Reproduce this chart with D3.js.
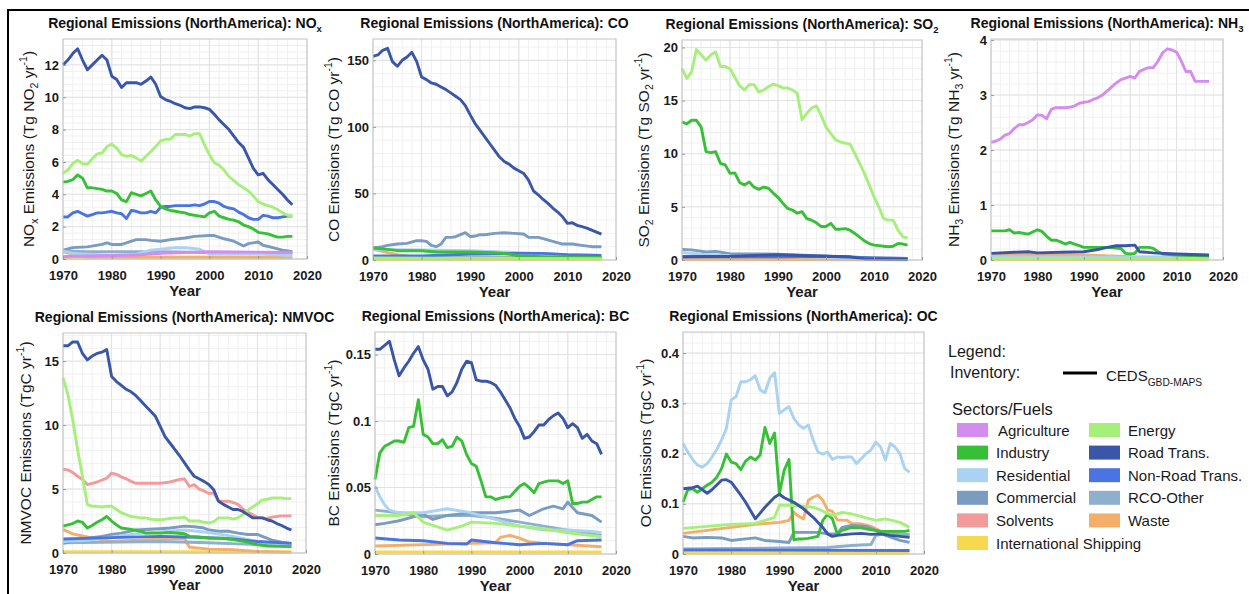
<!DOCTYPE html>
<html>
<head>
<meta charset="utf-8">
<script src="https://cdn.jsdelivr.net/npm/d3@7"></script>
<style>
  body { margin: 0; background: #fff; }
  svg { font-family: "Liberation Sans", Arial, Helvetica, sans-serif; }
</style>
</head>
<body>
<svg id="fig" width="1249" height="594"></svg>
<script>
// ---- data ----
const years = [1970,1971,1972,1973,1974,1975,1976,1977,1978,1979,
  1980,1981,1982,1983,1984,1985,1986,1987,1988,1989,
  1990,1991,1992,1993,1994,1995,1996,1997,1998,1999,
  2000,2001,2002,2003,2004,2005,2006,2007,2008,2009,
  2010,2011,2012,2013,2014,2015,2016,2017];

const sectors = ["Agriculture", "Energy", "Industry", "Road Trans.", "Residential", "Non-Road Trans.",
  "Commercial", "RCO-Other", "Solvents", "Waste", "International Shipping"];
const sectorColors = ["#d48cf0", "#a6f07a", "#36c036", "#3a56a8", "#aad2f2", "#4a74e0",
  "#7a9cc0", "#8fb0cc", "#f39a9a", "#f5ad6a", "#f8d84e"];
// drawing order, back to front
const drawOrder = ["International Shipping", "Waste", "Solvents", "RCO-Other", "Commercial", "Residential",
  "Non-Road Trans.", "Agriculture", "Industry", "Energy", "Road Trans."];

const xTicks = [1970, 1980, 1990, 2000, 2010, 2020];

// NOx (Tg NO2 / yr)
const noxRoad = [12.0,12.3,12.7,13.0,12.3,11.7,12.0,12.3,12.6,12.3,
  11.3,11.1,10.6,10.9,10.9,10.9,10.8,11.0,11.25,10.8,
  10.05,9.85,9.75,9.6,9.5,9.35,9.3,9.4,9.4,9.35,
  9.25,8.95,8.6,8.3,8.0,7.6,7.2,6.9,6.25,5.6,
  5.2,5.3,4.9,4.6,4.3,4.0,3.65,3.35];
const noxEnergy = [5.3,5.5,5.9,6.1,5.9,5.85,6.2,6.5,6.55,6.95,
  7.1,6.85,6.45,6.35,6.4,6.25,6.05,6.35,6.65,6.95,
  7.3,7.4,7.4,7.7,7.7,7.7,7.6,7.75,7.75,7.05,
  6.45,5.95,5.8,5.5,5.1,4.85,4.6,4.4,4.2,3.9,
  3.55,3.4,3.3,3.2,3.05,2.85,2.7,2.65];
const noxIndustry = [4.75,4.8,4.9,5.2,5.0,4.4,4.4,4.35,4.3,4.2,
  4.2,4.05,3.65,3.55,4.1,4.0,3.9,4.05,4.2,3.65,
  3.25,3.1,3.0,2.95,2.9,2.85,2.75,2.7,2.65,2.6,
  2.85,2.95,2.65,2.55,2.45,2.4,2.3,2.1,2.0,1.85,
  1.65,1.6,1.55,1.45,1.35,1.35,1.4,1.4];
const noxNonRoad = [2.6,2.6,2.85,2.95,2.8,2.65,2.75,2.85,2.85,2.9,
  2.95,2.85,2.8,2.5,3.0,2.95,2.85,2.85,2.95,2.85,
  3.2,3.25,3.25,3.3,3.3,3.3,3.3,3.35,3.3,3.4,
  3.55,3.55,3.45,3.25,3.15,3.1,2.9,2.75,2.55,2.45,
  2.45,2.7,2.65,2.55,2.55,2.6,2.65,2.65];
const noxCommercial = [[1970,0.55],[1972,0.7],[1975,0.75],[1978,0.9],[1979,1.0],[1980,0.9],[1982,0.9],
  [1983,1.0],[1985,1.2],[1987,1.2],[1988,1.15],[1990,1.1],[1992,1.2],[1995,1.3],[1997,1.4],[2000,1.45],
  [2001,1.45],[2003,1.25],[2005,1.1],[2007,0.8],[2008,0.95],[2010,1.05],[2011,0.85],[2013,0.7],[2015,0.55],[2017,0.45]];
const noxResidential = [[1970,0.5],[1972,0.35],[1975,0.3],[1980,0.22],[1985,0.3],[1988,0.55],[1990,0.6],
  [1993,0.7],[1995,0.7],[1998,0.6],[2000,0.3],[2010,0.3],[2017,0.22]];
const noxRco = [[1970,0.5],[1975,0.45],[1990,0.45],[2000,0.4],[2017,0.35]];
const noxAg = [[1970,0.15],[1985,0.25],[1990,0.35],[2000,0.45],[2017,0.4]];
const noxWaste = [[1970,0.45],[1972,0.3],[1975,0.12],[2017,0.1]];
const noxShipping = [[1970,0.05],[2017,0.07]];

// CO (Tg CO / yr)
const coRoad = [153,154,157.5,159,149,145.5,150,152.5,156,149,
  137.5,135.5,133,132,130,128,125.5,123,120.5,116,
  109,102.5,97.5,92.5,87.5,82.5,77.5,74,72,69,
  67,65,60,52,49,45.5,42.5,39,36,32.5,
  27.5,28,26,25,24,22.5,21,19.5];
const coCommercial = [[1970,9],[1972,10],[1973,11],[1975,12],[1977,12.5],[1979,14.5],[1980,14.5],[1981,14],
  [1982,11],[1983,10],[1984,12],[1985,17],[1986,17],[1987,17.5],[1988,19],[1989,20.5],[1990,17.5],[1991,18],
  [1992,19],[1993,19],[1995,20],[1997,20.5],[1999,20],[2001,19.5],[2002,17],[2004,17],[2005,16],[2007,14],
  [2009,12],[2011,12],[2013,11],[2015,10],[2017,10]];
const coIndustry = [[1970,9],[1973,8],[1975,7],[1980,7],[1983,6],[1990,6],[1995,5.5],[1998,4.5],[2000,3],
  [2005,2.5],[2017,2]];
const coResidential = [[1970,8],[1980,7.5],[1990,7],[2000,5.5],[2010,4],[2017,3.5]];
const coNonRoad = [[1970,3],[1980,3],[1990,4.5],[2000,5],[2005,5],[2010,4],[2017,3.5]];
const coWaste = [[1970,8],[1975,4],[1978,2.5],[2017,2]];
const coEnergy = [[1970,1.5],[2017,1]];
const coRco = [[1970,2],[2017,1.5]];
const coShipping = [[1970,0.4],[2017,0.5]];

// SO2 (Tg SO2 / yr)
const so2Energy = [18.0,17.1,17.7,19.8,19.3,18.8,19.3,19.6,18.2,18.2,
  18.0,17.2,16.4,16.0,16.5,16.5,15.8,16.0,16.3,16.55,
  16.4,16.2,16.2,16.0,15.7,13.2,13.8,14.3,14.5,13.6,
  12.5,11.9,11.3,11.1,11.0,10.9,10.0,9.1,8.15,7.05,
  5.95,5.0,3.9,3.75,3.75,2.8,2.2,2.05];
const so2Industry = [13.0,12.8,13.15,13.15,12.5,10.2,10.1,10.2,9.1,8.95,
  8.15,8.2,7.3,7.05,7.35,6.85,6.65,6.85,6.75,6.3,
  5.9,5.35,4.85,4.7,4.4,4.55,3.9,3.75,3.5,3.15,
  3.15,3.45,2.9,2.9,2.95,2.8,2.5,2.15,1.8,1.55,
  1.4,1.35,1.3,1.25,1.3,1.55,1.5,1.4];
const so2Commercial = [[1970,1.0],[1972,0.95],[1975,0.75],[1977,0.8],[1980,0.6],[1990,0.55],[2000,0.35],
  [2010,0.2],[2017,0.15]];
const so2Residential = [[1970,0.7],[1975,0.5],[1980,0.4],[1990,0.35],[2000,0.25],[2010,0.15],[2017,0.1]];
const so2Road = [[1970,0.3],[1980,0.35],[1990,0.5],[2000,0.35],[2005,0.3],[2008,0.1],[2017,0.05]];
const so2NonRoad = [[1970,0.3],[1990,0.3],[2000,0.35],[2010,0.2],[2017,0.15]];
const so2Waste = [[1970,0.05],[2017,0.03]];
const so2Shipping = [[1970,0.05],[2017,0.05]];

// NH3 (Tg NH3 / yr)
const nh3Ag = [2.14,2.16,2.2,2.27,2.3,2.39,2.46,2.46,2.5,2.55,
  2.64,2.63,2.57,2.74,2.77,2.77,2.77,2.78,2.8,2.85,
  2.87,2.88,2.92,2.95,3.0,3.07,3.15,3.22,3.28,3.31,
  3.34,3.31,3.43,3.47,3.5,3.5,3.62,3.77,3.84,3.82,
  3.78,3.62,3.43,3.43,3.25,3.25,3.25,3.25];
const nh3Industry = [[1970,0.53],[1973,0.53],[1974,0.55],[1975,0.49],[1976,0.5],[1978,0.47],[1980,0.55],
  [1981,0.52],[1982,0.43],[1983,0.36],[1984,0.36],[1985,0.33],[1986,0.29],[1987,0.32],[1988,0.29],[1989,0.26],
  [1990,0.23],[1995,0.23],[1998,0.21],[1999,0.12],[2000,0.11],[2001,0.12],[2002,0.23],[2004,0.23],[2005,0.21],
  [2006,0.15],[2007,0.11],[2010,0.09],[2017,0.07]];
const nh3Road = [[1970,0.12],[1975,0.14],[1978,0.15],[1980,0.13],[1985,0.14],[1990,0.15],[1993,0.19],
  [1995,0.23],[1997,0.26],[1999,0.26],[2001,0.27],[2002,0.15],[2005,0.13],[2010,0.11],[2017,0.09]];
const nh3Waste = [[1970,0.1],[1990,0.09],[2000,0.06],[2017,0.05]];
const nh3Energy = [[1970,0.03],[2017,0.02]];
const nh3Residential = [[1970,0.06],[2017,0.04]];
const nh3Shipping = [[1970,0.005],[2017,0.005]];

// NMVOC (TgC / yr)
const vocRoad = [16.2,16.2,16.5,16.5,15.6,15.1,15.4,15.6,15.7,15.9,
  13.8,13.4,13.1,12.8,12.6,12.3,11.9,11.5,11.1,10.7,
  9.9,9.1,8.6,8.1,7.6,7.05,6.5,6.0,5.8,5.6,
  5.35,4.95,4.05,3.8,3.6,3.4,3.4,3.25,3.0,2.75,
  2.75,2.75,2.6,2.5,2.3,2.15,1.95,1.8];
const vocEnergy = [13.7,12.4,10.4,8.1,6.0,3.8,3.65,3.65,3.6,3.65,
  3.65,3.4,3.15,3.0,2.85,2.8,2.75,2.75,2.65,2.6,
  2.6,2.65,2.7,2.75,2.75,2.8,2.5,2.5,2.5,2.4,
  2.35,2.45,2.75,2.75,2.75,2.65,2.75,3.0,3.35,3.6,
  3.85,4.15,4.2,4.3,4.3,4.3,4.25,4.25];
const vocSolvents = [6.55,6.5,6.3,6.0,5.75,5.35,5.45,5.55,5.7,5.85,
  6.25,6.15,5.95,5.8,5.6,5.45,5.45,5.45,5.45,5.45,
  5.45,5.5,5.55,5.65,5.75,5.8,5.2,5.35,5.0,4.85,
  4.65,4.7,4.05,4.05,4.05,3.95,3.8,3.45,3.2,3.0,
  2.8,2.75,2.7,2.8,2.85,2.9,2.9,2.9];
const vocIndustry = [[1970,2.1],[1972,2.3],[1973,2.5],[1974,2.4],[1975,1.95],[1976,2.15],[1977,2.4],[1978,2.6],
  [1979,2.85],[1980,2.5],[1981,2.2],[1982,1.95],[1984,1.85],[1986,1.7],[1987,1.55],[1990,1.55],[1992,1.6],
  [1995,1.5],[1996,1.3],[1998,1.25],[2000,1.15],[2003,1.15],[2005,1.05],[2008,0.85],[2010,0.65],[2012,0.55],[2017,0.5]];
const vocCommercial = [[1970,0.75],[1972,0.9],[1975,1.15],[1978,1.3],[1980,1.45],[1982,1.55],[1985,1.8],
  [1990,1.9],[1992,1.95],[1995,2.1],[1997,2.05],[1999,1.95],[2000,1.8],[2002,1.7],[2004,1.7],[2006,1.55],
  [2008,1.45],[2010,1.45],[2011,1.3],[2013,1.0],[2015,0.85],[2017,0.75]];
const vocNonRoad = [[1970,1.1],[1980,1.2],[1990,1.3],[1995,1.25],[2000,1.2],[2005,1.1],[2010,0.9],[2017,0.75]];
const vocResidential = [[1970,0.9],[1975,1.0],[1985,1.5],[1995,1.8],[2000,1.6],[2005,1.3],[2010,0.9],[2017,0.6]];
const vocRco = [[1970,0.8],[1990,0.9],[2000,0.8],[2017,0.55]];
const vocWaste = [[1970,1.85],[1972,1.5],[1975,1.25],[1978,1.05],[1980,0.9],[1985,1.0],[1990,1.1],
  [1995,1.15],[1996,0.45],[2000,0.3],[2005,0.25],[2010,0.12],[2017,0.05]];
const vocShipping = [[1970,0.1],[2017,0.1]];

// BC (TgC / yr)
const bcRoad = [0.154,0.154,0.157,0.16,0.146,0.134,0.14,0.145,0.151,0.156,
  0.146,0.139,0.124,0.126,0.126,0.119,0.122,0.129,0.139,0.145,
  0.144,0.131,0.13,0.13,0.129,0.127,0.122,0.116,0.11,0.102,
  0.096,0.087,0.088,0.092,0.097,0.097,0.101,0.104,0.106,0.102,
  0.095,0.098,0.095,0.087,0.09,0.085,0.083,0.075];
const bcIndustry = [0.056,0.076,0.081,0.083,0.085,0.085,0.084,0.095,0.096,0.116,
  0.09,0.088,0.083,0.083,0.086,0.08,0.081,0.088,0.085,0.075,
  0.068,0.066,0.055,0.043,0.043,0.041,0.042,0.043,0.043,0.047,
  0.051,0.053,0.05,0.046,0.053,0.054,0.055,0.055,0.055,0.053,
  0.055,0.038,0.038,0.039,0.039,0.041,0.043,0.043];
const bcResidential = [[1970,0.051],[1971,0.043],[1972,0.037],[1973,0.033],[1975,0.031],[1980,0.031],
  [1985,0.034],[1990,0.031],[1995,0.026],[2000,0.021],[2005,0.018],[2010,0.018],[2015,0.017],[2017,0.016]];
const bcCommercial = [[1970,0.022],[1972,0.023],[1975,0.025],[1980,0.03],[1982,0.026],[1985,0.029],
  [1990,0.031],[1995,0.031],[2000,0.033],[2002,0.029],[2005,0.034],[2007,0.036],[2009,0.034],[2010,0.039],
  [2012,0.031],[2015,0.029],[2017,0.024]];
const bcRco = [[1970,0.033],[1975,0.031],[1980,0.028],[1985,0.029],[1990,0.029],[1995,0.027],[2000,0.024],
  [2005,0.021],[2010,0.018],[2017,0.014]];
const bcEnergy = [[1970,0.029],[1975,0.029],[1978,0.031],[1980,0.024],[1985,0.018],[1988,0.021],[1990,0.024],
  [1995,0.023],[2000,0.021],[2005,0.019],[2010,0.016],[2017,0.013]];
const bcNonRoad = [[1970,0.012],[1975,0.0105],[1980,0.01],[1985,0.008],[1989,0.0075],[1990,0.0105],
  [1995,0.0085],[2000,0.007],[2005,0.008],[2010,0.007],[2012,0.01],[2017,0.0105]];
const bcWaste = [[1970,0.006],[1990,0.008],[1995,0.0085],[1996,0.0125],[1998,0.014],[2000,0.012],
  [2002,0.009],[2005,0.008],[2010,0.007],[2017,0.0055]];
const bcShipping = [[1970,0.0015],[2017,0.0015]];

// OC (TgC / yr)
const ocResidential = [0.22,0.203,0.188,0.177,0.173,0.18,0.193,0.208,0.227,0.25,
  0.307,0.313,0.343,0.343,0.347,0.355,0.327,0.321,0.35,0.361,
  0.28,0.287,0.293,0.27,0.257,0.25,0.257,0.227,0.203,0.199,
  0.203,0.188,0.193,0.192,0.193,0.193,0.18,0.19,0.2,0.207,
  0.223,0.213,0.187,0.22,0.213,0.2,0.17,0.163];
const ocIndustry = [0.103,0.128,0.13,0.123,0.13,0.137,0.143,0.153,0.17,0.199,
  0.183,0.18,0.168,0.185,0.193,0.187,0.197,0.252,0.22,0.241,
  0.12,0.167,0.188,0.028,0.03,0.03,0.031,0.033,0.035,0.067,
  0.079,0.07,0.04,0.047,0.05,0.053,0.052,0.052,0.05,0.048,
  0.047,0.045,0.045,0.045,0.045,0.045,0.045,0.047];
const ocRoad = [[1970,0.13],[1972,0.132],[1973,0.135],[1975,0.121],[1976,0.128],[1978,0.147],[1979,0.148],
  [1980,0.143],[1982,0.117],[1983,0.103],[1985,0.07],[1987,0.093],[1989,0.113],[1990,0.119],[1991,0.112],
  [1993,0.103],[1995,0.09],[1997,0.073],[1999,0.053],[2000,0.04],[2001,0.035],[2002,0.037],[2005,0.04],
  [2007,0.041],[2009,0.039],[2011,0.04],[2013,0.037],[2015,0.035],[2017,0.033]];
const ocEnergy = [[1970,0.051],[1975,0.055],[1980,0.059],[1985,0.061],[1987,0.067],[1989,0.073],[1990,0.097],
  [1992,0.097],[1995,0.095],[1997,0.093],[1998,0.09],[2000,0.081],[2001,0.077],[2002,0.08],[2003,0.083],
  [2005,0.08],[2008,0.072],[2010,0.067],[2012,0.07],[2015,0.063],[2017,0.053]];
const ocWaste = [[1970,0.041],[1975,0.047],[1980,0.053],[1985,0.059],[1990,0.063],[1992,0.067],[1993,0.083],
  [1994,0.075],[1995,0.07],[1996,0.107],[1997,0.113],[1998,0.117],[1999,0.107],[2000,0.088],[2001,0.085],
  [2002,0.068],[2004,0.067],[2005,0.061],[2007,0.06],[2009,0.055],[2011,0.045],[2013,0.043],[2015,0.039],[2017,0.037]];
const ocCommercial = [[1970,0.035],[1972,0.032],[1975,0.033],[1978,0.032],[1980,0.027],[1983,0.03],
  [1985,0.032],[1987,0.027],[1990,0.025],[1992,0.023],[1993,0.043],[1998,0.043],[2000,0.04],[2002,0.04],
  [2003,0.053],[2005,0.057],[2008,0.055],[2010,0.047],[2012,0.037],[2015,0.027],[2017,0.023]];
const ocRco = [[1970,0.01],[1990,0.012],[2000,0.013],[2005,0.017],[2009,0.019],[2010,0.037],[2012,0.04],
  [2015,0.04],[2017,0.039]];
const ocNonRoad = [[1970,0.008],[2017,0.007]];
const ocShipping = [[1970,0.002],[2017,0.002]];

// ---- panel layout ----
const panels = [
  { title: [["Regional Emissions (NorthAmerica): NO"], ["x", "sub"]],
    ylabel: [["NO"], ["x", "sub"], [" Emissions (Tg NO"], ["2", "sub"], [" yr"], ["-1", "sup"], [")"]],
    box: [63, 307, 39, 259], yMax: 13.6, yTicks: [0, 2, 4, 6, 8, 10, 12], yMinor: 0.4, ylabX: 30,
    series: { "Agriculture": noxAg, "Energy": noxEnergy, "Industry": noxIndustry, "Road Trans.": noxRoad,
      "Residential": noxResidential, "Non-Road Trans.": noxNonRoad, "Commercial": noxCommercial,
      "RCO-Other": noxRco, "Waste": noxWaste, "International Shipping": noxShipping } },
  { title: [["Regional Emissions (NorthAmerica): CO"]],
    ylabel: [["CO Emissions (Tg CO yr"], ["-1", "sup"], [")"]],
    box: [373, 616, 39, 260], yMax: 166, yTicks: [0, 50, 100, 150], yMinor: 10, ylabX: 335,
    series: { "Energy": coEnergy, "Industry": coIndustry, "Road Trans.": coRoad, "Residential": coResidential,
      "Non-Road Trans.": coNonRoad, "Commercial": coCommercial, "RCO-Other": coRco, "Waste": coWaste,
      "International Shipping": coShipping } },
  { title: [["Regional Emissions (NorthAmerica): SO"], ["2", "sub"]],
    ylabel: [["SO"], ["2", "sub"], [" Emissions (Tg SO"], ["2", "sub"], [" yr"], ["-1", "sup"], [")"]],
    box: [682, 922, 40, 260], yMax: 20.7, yTicks: [0, 5, 10, 15, 20], yMinor: 1, ylabX: 645,
    series: { "Energy": so2Energy, "Industry": so2Industry, "Road Trans.": so2Road, "Residential": so2Residential,
      "Non-Road Trans.": so2NonRoad, "Commercial": so2Commercial, "Waste": so2Waste,
      "International Shipping": so2Shipping } },
  { title: [["Regional Emissions (NorthAmerica): NH"], ["3", "sub"]],
    ylabel: [["NH"], ["3", "sub"], [" Emissions (Tg NH"], ["3", "sub"], [" yr"], ["-1", "sup"], [")"]],
    box: [991, 1223, 39, 260], yMax: 4.02, yTicks: [0, 1, 2, 3, 4], yMinor: 0.2, ylabX: 955,
    series: { "Agriculture": nh3Ag, "Energy": nh3Energy, "Industry": nh3Industry, "Road Trans.": nh3Road,
      "Residential": nh3Residential, "Waste": nh3Waste, "International Shipping": nh3Shipping } },
  { title: [["Regional Emissions (NorthAmerica): NMVOC"]],
    ylabel: [["NMVOC Emissions (TgC yr"], ["-1", "sup"], [")"]],
    box: [63, 306, 333, 553], yMax: 17.2, yTicks: [0, 5, 10, 15], yMinor: 1, ylabX: 27,
    series: { "Energy": vocEnergy, "Industry": vocIndustry, "Road Trans.": vocRoad, "Residential": vocResidential,
      "Non-Road Trans.": vocNonRoad, "Commercial": vocCommercial, "RCO-Other": vocRco,
      "Solvents": vocSolvents, "Waste": vocWaste, "International Shipping": vocShipping } },
  { title: [["Regional Emissions (NorthAmerica): BC"]],
    ylabel: [["BC Emissions (TgC yr"], ["-1", "sup"], [")"]],
    box: [375, 616, 332, 554], yMax: 0.167, yTicks: [0, 0.05, 0.1, 0.15], yMinor: 0.01, ylabX: 335,
    series: { "Energy": bcEnergy, "Industry": bcIndustry, "Road Trans.": bcRoad, "Residential": bcResidential,
      "Non-Road Trans.": bcNonRoad, "Commercial": bcCommercial, "RCO-Other": bcRco, "Waste": bcWaste,
      "International Shipping": bcShipping } },
  { title: [["Regional Emissions (NorthAmerica): OC"]],
    ylabel: [["OC Emissions (TgC yr"], ["-1", "sup"], [")"]],
    box: [683, 924, 332, 554], yMax: 0.442, yTicks: [0, 0.1, 0.2, 0.3, 0.4], yMinor: 0.02, ylabX: 647,
    series: { "Energy": ocEnergy, "Industry": ocIndustry, "Road Trans.": ocRoad, "Residential": ocResidential,
      "Non-Road Trans.": ocNonRoad, "Commercial": ocCommercial, "RCO-Other": ocRco, "Waste": ocWaste,
      "International Shipping": ocShipping } }
];

const svg = d3.select("#fig");
const colorOf = d3.scaleOrdinal().domain(sectors).range(sectorColors);

// sub/superscript text built from [text, kind] parts
function richText(sel, parts, size) {
  let shift = 0;
  parts.forEach(([t, kind]) => {
    const target = kind === "sub" ? size * 0.32 : kind === "sup" ? -size * 0.4 : 0;
    const ts = sel.append("tspan").text(t).attr("dy", target - shift);
    if (kind) ts.attr("font-size", size * 0.68);
    shift = target;
  });
}

function toPoints(s) {
  return Array.isArray(s[0]) ? s : s.map((v, i) => [years[i], v]);
}

function drawPanel(p) {
  const [left, right, top, bottom] = p.box;
  const x = d3.scaleLinear().domain([1970, 2020]).range([left, right]);
  const y = d3.scaleLinear().domain([0, p.yMax]).range([bottom, top]);
  const g = svg.append("g");

  g.append("rect")
      .attr("x", left).attr("y", top)
      .attr("width", right - left).attr("height", bottom - top)
      .attr("fill", "#fff");

  // minor + major grid
  const grid = g.append("g");
  grid.selectAll(".xm").data(d3.range(1972, 2020, 2)).enter().append("line")
      .attr("x1", d => x(d)).attr("x2", d => x(d)).attr("y1", top).attr("y2", bottom)
      .attr("stroke", "#f0f0f0");
  const yMin = d3.range(0, p.yMax, p.yMinor).map(v => +v.toFixed(6));
  grid.selectAll(".ym").data(yMin).enter().append("line")
      .attr("x1", left).attr("x2", right).attr("y1", d => y(d)).attr("y2", d => y(d))
      .attr("stroke", "#f0f0f0");
  grid.selectAll(".xM").data(xTicks).enter().append("line")
      .attr("x1", d => x(d)).attr("x2", d => x(d)).attr("y1", top).attr("y2", bottom)
      .attr("stroke", "#e2e2e2");
  grid.selectAll(".yM").data(p.yTicks).enter().append("line")
      .attr("x1", left).attr("x2", right).attr("y1", d => y(d)).attr("y2", d => y(d))
      .attr("stroke", "#e2e2e2");

  // lines
  const line = d3.line().x(d => x(d[0])).y(d => y(d[1]));
  drawOrder.filter(k => p.series[k]).forEach(k => {
    g.append("path")
        .datum(toPoints(p.series[k]))
        .attr("d", line)
        .attr("fill", "none")
        .attr("stroke", colorOf(k))
        .attr("stroke-width", 2.9)
        .attr("stroke-linejoin", "round");
  });

  g.append("rect")
      .attr("x", left).attr("y", top)
      .attr("width", right - left).attr("height", bottom - top)
      .attr("fill", "none").attr("stroke", "#c4c4c4");

  // axes
  const xAxis = g.append("g")
      .attr("transform", `translate(0,${bottom})`)
      .call(d3.axisBottom(x).tickValues(xTicks).tickFormat(d3.format("d"))
        .tickSizeInner(-3).tickSizeOuter(0).tickPadding(12));
  const yAxis = g.append("g")
      .attr("transform", `translate(${left},0)`)
      .call(d3.axisLeft(y).tickValues(p.yTicks).tickFormat(d => String(d))
        .tickSizeInner(-3).tickSizeOuter(0).tickPadding(4));
  [xAxis, yAxis].forEach(a => {
    a.select(".domain").remove();
    a.selectAll(".tick line").attr("stroke", "#999");
    a.selectAll(".tick text")
        .attr("fill", "#1a1a1a")
        .attr("font-size", 13)
        .attr("font-weight", "bold")
        .attr("font-family", "'Liberation Sans', Arial, sans-serif");
  });

  g.append("text")
      .attr("x", (left + right) / 2).attr("y", bottom + 37)
      .attr("text-anchor", "middle")
      .attr("font-size", 15).attr("font-weight", "bold").attr("fill", "#1a1a1a")
      .text("Year");

  const t = g.append("text")
      .attr("x", (left + right) / 2).attr("y", top - 11)
      .attr("text-anchor", "middle")
      .attr("font-size", 14).attr("font-weight", "bold").attr("fill", "#111");
  richText(t, p.title, 14);

  const yl = g.append("text")
      .attr("transform", `translate(${p.ylabX},${(top + bottom) / 2}) rotate(-90)`)
      .attr("text-anchor", "middle")
      .attr("dominant-baseline", "middle")
      .attr("font-size", 15.5).attr("fill", "#1a1a1a");
  richText(yl, p.ylabel, 15.5);
}

panels.forEach(drawPanel);

// ---- legend ----
const leg = svg.append("g").attr("fill", "#1a1a1a");
leg.append("text").attr("x", 948).attr("y", 357).attr("font-size", 16).text("Legend:");
leg.append("text").attr("x", 950).attr("y", 378).attr("font-size", 16).text("Inventory:");
leg.append("line").attr("x1", 1063).attr("x2", 1097).attr("y1", 373).attr("y2", 373)
    .attr("stroke", "#000").attr("stroke-width", 3);
const ceds = leg.append("text").attr("x", 1106).attr("y", 381).attr("font-size", 15);
richText(ceds, [["CEDS"], ["GBD-MAPS", "sub"]], 15);
leg.append("text").attr("x", 952).attr("y", 415).attr("font-size", 16.5).text("Sectors/Fuels");

const items = leg.selectAll(".item").data(sectors).enter().append("g")
    .attr("transform", (d, i) => `translate(${i % 2 ? 1089 : 957},${430 + Math.floor(i / 2) * 22.6})`);
items.append("rect")
    .attr("x", 0).attr("y", -7).attr("width", 31).attr("height", 14)
    .attr("fill", d => colorOf(d));
items.append("text")
    .attr("x", (d, i) => i === 0 ? 41 : 39).attr("y", 5.5)
    .attr("font-size", 15)
    .text(d => d);

// figure frame (top and left edges visible)
svg.append("path")
    .attr("d", "M8,594V10H1249")
    .attr("fill", "none").attr("stroke", "#000").attr("stroke-width", 2);
</script>
</body>
</html>
